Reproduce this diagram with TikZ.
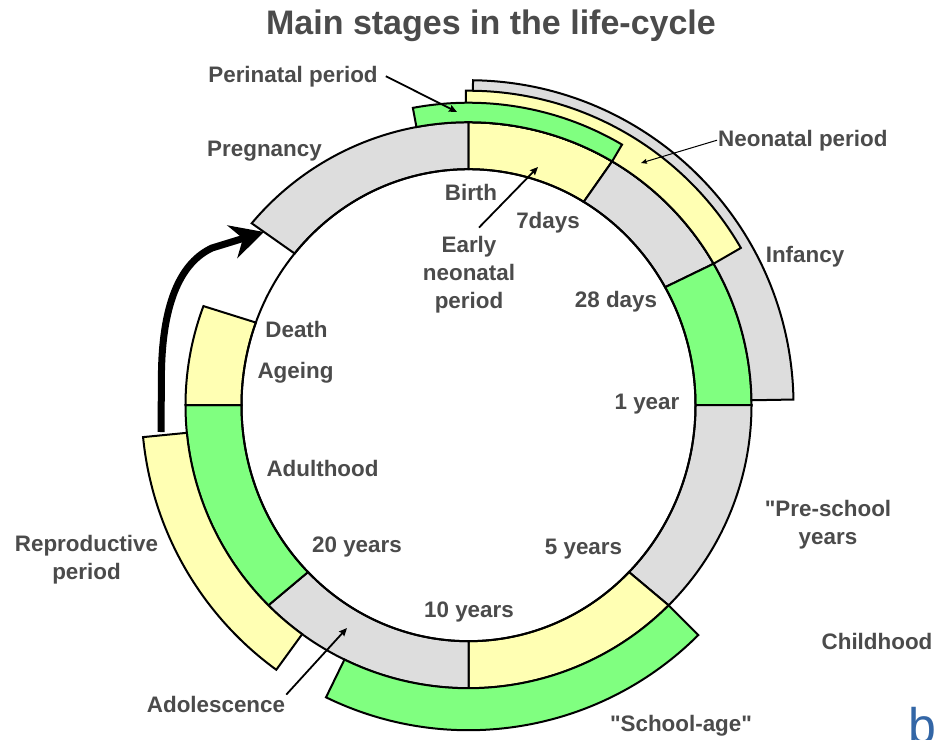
\documentclass[tikz,border=0pt]{standalone}
\usepackage{fontspec}
\setmainfont{Liberation Sans}[Ligatures=TeXOff]
\usetikzlibrary{arrows.meta,calc}
\definecolor{segGray}{HTML}{DDDDDD}
\definecolor{segYellow}{HTML}{FFFFB3}
\definecolor{segGreen}{HTML}{80FF80}
\definecolor{txtGray}{HTML}{4B4B4B}
\definecolor{logoBlue}{HTML}{3366A6}
\tikzset{
  segline/.style={draw=black, line width=2pt, line join=miter},
  lbl/.style={font=\fontsize{22.4}{27.8}\selectfont\bfseries, text=txtGray, inner sep=1pt},
  mlbl/.style={lbl, align=center},
  thinarr/.style={draw=black, line width=1.8pt, -{Stealth[length=8pt,width=7pt,inset=1pt]}},
  finearr/.style={draw=black, line width=1pt, -{Stealth[length=6pt,width=5pt,inset=1pt]}},
  bigarr/.style={draw=black, line width=7pt, -{Stealth[length=33pt,width=34pt,inset=11pt]}}
}
% colour, clock angle 1, clock angle 2, inner x radius, inner y radius, outer radius
\newcommand\ringseg[6]{%
  \filldraw[segline, fill=#1] ($(C)+({#2-90}:#6)$)
    arc[start angle={#2-90}, end angle={#3-90}, radius=#6]
    -- ($(C)+({#3-90}:#4 and #5)$)
    arc[start angle={#3-90}, end angle={#2-90}, x radius=#4, y radius=#5]
    -- cycle;}
\begin{document}
\begin{tikzpicture}[x=1pt,y=-1pt]
\useasboundingbox (0,0) rectangle (934,739);
\fill[white] (0,0) rectangle (934,739);
\coordinate (C) at (468.5,405.2);

% main ring
\ringseg{segGray}{310}{360}{227}{236}{283}
\ringseg{segYellow}{0}{30.5}{227}{236}{283}
\ringseg{segGray}{30.5}{60}{227}{236}{283}
\ringseg{segGreen}{60}{90}{227}{236}{283}
\ringseg{segGray}{90}{135}{227}{236}{283}
\ringseg{segYellow}{135}{180}{227}{236}{283}
\ringseg{segGray}{180}{225}{227}{236}{283}
\ringseg{segGreen}{225}{270}{227}{236}{283}
\ringseg{segYellow}{270}{290.5}{227}{236}{283}
\draw[segline] (C) ellipse[x radius=227, y radius=236];

% outer bands
\ringseg{segGray}{0.8}{89}{283}{283}{325}
\ringseg{segYellow}{-0.5}{60}{283}{283}{314.5}
\ringseg{segGreen}{-10.6}{30.5}{283}{283}{302.5}
\ringseg{segGreen}{135}{206}{283}{283}{325}
\ringseg{segYellow}{216}{264.4}{283}{283}{327}

% big cycle arrow
\coordinate (cycStart) at (161,432);
\coordinate (cycEnd) at (264,232);
\draw[bigarr] (cycStart) -- (161.5,370) .. controls (163,300) and (182,262) .. (212,248) -- (cycEnd);

% title
\node[lbl, font=\fontsize{34}{40}\selectfont\bfseries, text=txtGray, anchor=base] (title) at (491,34) {Main stages in the life-cycle};

% labels
\node[lbl, anchor=base] (perinatal) at (293,82) {Perinatal period};
\node[lbl, anchor=base] (pregnancy) at (264.5,156) {Pregnancy};
\node[lbl, anchor=base west] (neonatal) at (717,146) {Neonatal period};
\node[lbl, anchor=base] (birth) at (471,200) {Birth};
\node[lbl, anchor=base] (days7) at (548,228) {7days};
\node[mlbl, anchor=center] (early) at (469,275) {Early\\neonatal\\period};
\node[lbl, anchor=base] (days28) at (616,307.5) {28 days};
\node[lbl, anchor=base] (infancy) at (805,262.5) {Infancy};
\node[lbl, anchor=base] (year1) at (647,409) {1 year};
\node[mlbl, anchor=center] (preschool) at (828,525) {"Pre-school\\years};
\node[lbl, anchor=base] (childhood) at (877,649.5) {Childhood};
\node[lbl, anchor=base] (years5) at (583.5,554.5) {5 years};
\node[lbl, anchor=base] (years10) at (469,617) {10 years};
\node[lbl, anchor=base] (years20) at (357,552.5) {20 years};
\node[lbl, anchor=base] (adulthood) at (322.5,476.5) {Adulthood};
\node[lbl, anchor=base] (death) at (296.5,337) {Death};
\node[lbl, anchor=base] (ageing) at (295.5,378.5) {Ageing};
\node[mlbl, anchor=center] (reproductive) at (86.5,559.5) {Reproductive\\period};
\node[lbl, anchor=base] (adolescence) at (216,712) {Adolescence};
\node[lbl, anchor=base] (schoolage) at (681,731) {"School-age"};

% logo fragment (cut by the right edge, as in the reference)
\node[anchor=base west, text=logoBlue, font=\fontsize{50}{50}\selectfont, inner sep=0pt] (logo) at (908.5,743) {b};

% pointer arrows
\coordinate (perTip) at (457,112);
\coordinate (neoTip) at (641,163);
\coordinate (earlyTip) at (538,167);
\coordinate (adolTip) at (347,628);
\draw[thinarr] ([xshift=7pt]perinatal.east) -- (perTip);
\draw[finearr] (neonatal.west) -- (neoTip);
\draw[thinarr] ([shift={(10,-8)}]early.north) -- (earlyTip);
\draw[thinarr] (adolescence.north east) -- (adolTip);
\end{tikzpicture}
\end{document}
